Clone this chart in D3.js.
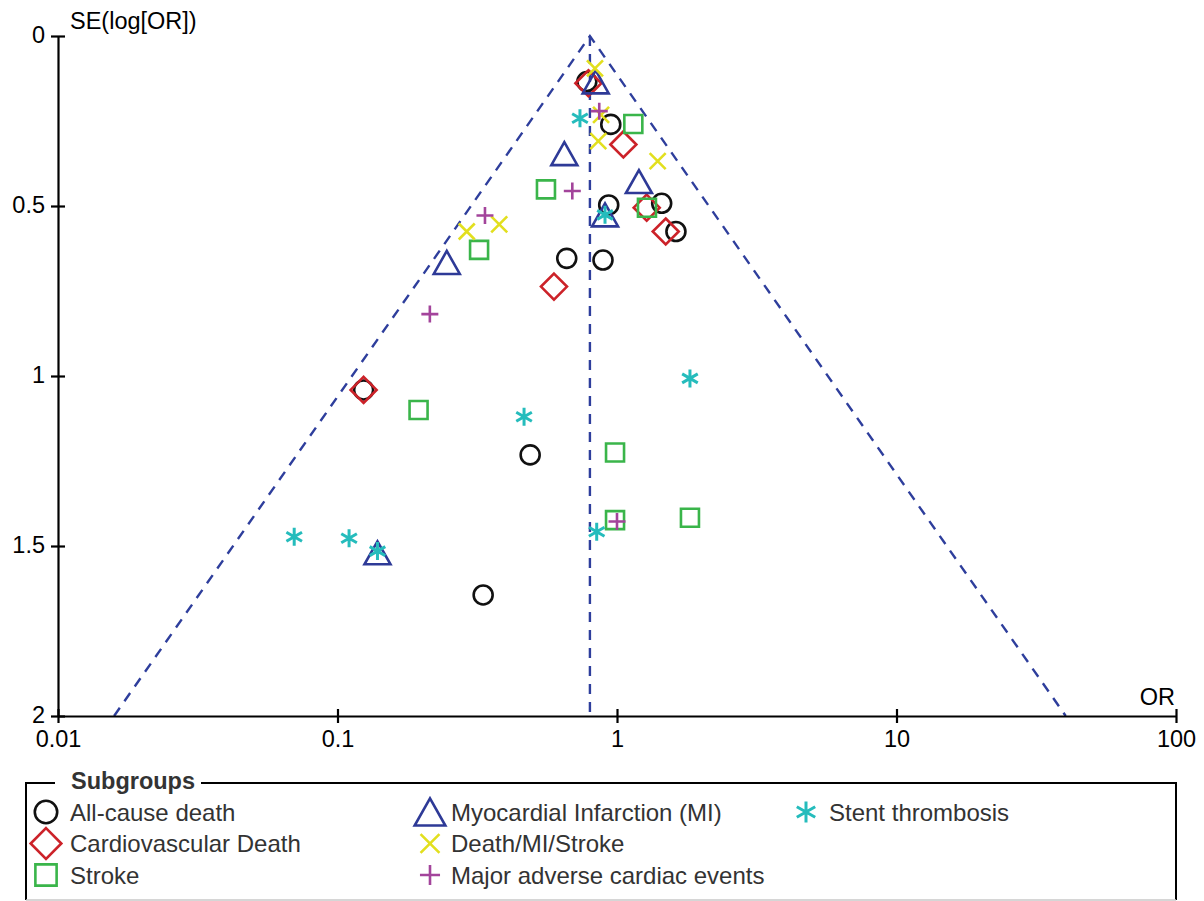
<!DOCTYPE html>
<html>
<head>
<meta charset="utf-8">
<script src="https://cdn.jsdelivr.net/npm/d3@7"></script>
<style>
  body { margin: 0; background: #fff; }
  svg { display: block; font-family: "Liberation Sans", Arial, sans-serif; }
</style>
</head>
<body>
<div id="chart"></div>
<script>
// Odds ratios and standard errors
var allCauseOR = [0.78, 0.95, 0.934, 1.445, 1.625, 0.661, 0.891, 0.124, 0.489, 0.332];
var allCauseSE = [0.134, 0.26, 0.497, 0.492, 0.575, 0.654, 0.659, 1.041, 1.232, 1.644];

var cvDeathOR = [0.79, 1.054, 1.277, 1.494, 0.595, 0.124];
var cvDeathSE = [0.139, 0.319, 0.505, 0.575, 0.737, 1.041];

var miOR = [0.839, 0.648, 1.198, 0.906, 0.246, 0.139];
var miSE = [0.135, 0.346, 0.428, 0.526, 0.666, 1.52];

var strokeOR = [1.144, 0.557, 1.28, 0.321, 0.195, 0.984, 0.984, 1.824];
var strokeSE = [0.259, 0.451, 0.505, 0.629, 1.1, 1.225, 1.424, 1.417];

var deathMiStrokeOR = [0.834, 0.877, 0.857, 1.398, 0.29, 0.379];
var deathMiStrokeSE = [0.095, 0.232, 0.309, 0.368, 0.575, 0.554];

var maceOR = [0.864, 0.692, 0.337, 0.214, 1.0];
var maceSE = [0.221, 0.456, 0.528, 0.818, 1.428];

var stentOR = [0.737, 0.906, 1.824, 0.465, 0.846, 0.110, 0.070, 0.139];
var stentSE = [0.242, 0.526, 1.007, 1.12, 1.458, 1.477, 1.473, 1.515];

var pooledOR = 0.8;
var xTicks = [0.01, 0.1, 1, 10, 100];
var xTickLabels = ["0.01", "0.1", "1", "10", "100"];
var yTicks = [0, 0.5, 1, 1.5, 2];
var yTickLabels = ["0", "0.5", "1", "1.5", "2"];

// Series table (drawing order matters for overlaps)
var series = [
  { name: "All-cause death", shape: "circle", color: "#111111", or: allCauseOR, se: allCauseSE, col: 0, row: 0 },
  { name: "Cardiovascular Death", shape: "diamond", color: "#cc2229", or: cvDeathOR, se: cvDeathSE, col: 0, row: 1 },
  { name: "Myocardial Infarction (MI)", shape: "triangle", color: "#2e3a97", or: miOR, se: miSE, col: 1, row: 0 },
  { name: "Stroke", shape: "square", color: "#3ab54a", or: strokeOR, se: strokeSE, col: 0, row: 2 },
  { name: "Death/MI/Stroke", shape: "cross", color: "#e2df1e", or: deathMiStrokeOR, se: deathMiStrokeSE, col: 1, row: 1 },
  { name: "Major adverse cardiac events", shape: "plus", color: "#a3449b", or: maceOR, se: maceSE, col: 1, row: 2 },
  { name: "Stent thrombosis", shape: "asterisk", color: "#25bcbc", or: stentOR, se: stentSE, col: 2, row: 0 }
];

var width = 1204, height = 901;

var svg = d3.select("#chart")
  .append("svg")
  .attr("width", width)
  .attr("height", height);

// Scales
var x = d3.scaleLog().domain([0.01, 100]).range([58, 1176]);
var y = d3.scaleLinear().domain([0, 2]).range([36, 716]);

// Marker paths
function markerPath(shape, s) {
  var p = d3.path();
  if (shape === "circle") {
    var r = 9.5 * s;
    p.moveTo(r, 0);
    p.arc(0, 0, r, 0, 2 * Math.PI);
  } else if (shape === "diamond") {
    var h = 13 * s;
    p.moveTo(0, -h); p.lineTo(h, 0); p.lineTo(0, h); p.lineTo(-h, 0); p.closePath();
  } else if (shape === "square") {
    var a = 9 * s;
    p.rect(-a, -a, 2 * a, 2 * a);
  } else if (shape === "triangle") {
    var w = 13 * s, t = 11.5 * s;
    p.moveTo(0, -t); p.lineTo(w, t); p.lineTo(-w, t); p.closePath();
  } else if (shape === "cross") {
    var c = 8 * s;
    p.moveTo(-c, -c); p.lineTo(c, c); p.moveTo(-c, c); p.lineTo(c, -c);
  } else if (shape === "plus") {
    var q = 8.5 * s;
    p.moveTo(-q, 0); p.lineTo(q, 0); p.moveTo(0, -q); p.lineTo(0, q);
  } else if (shape === "asterisk") {
    var k = 9 * s, cx = k * Math.cos(Math.PI / 6), cy = k * Math.sin(Math.PI / 6);
    p.moveTo(0, -k); p.lineTo(0, k);
    p.moveTo(-cx, -cy); p.lineTo(cx, cy);
    p.moveTo(-cx, cy); p.lineTo(cx, -cy);
  }
  return p.toString();
}

// Funnel and pooled estimate lines
var z = 1.96;
var seMax = 2;
var funnel = [
  [pooledOR * Math.exp(-z * seMax), seMax],
  [pooledOR, 0],
  [pooledOR * Math.exp(z * seMax), seMax]
];
var line = d3.line()
  .x(function(d) { return x(d[0]); })
  .y(function(d) { return y(d[1]); });

svg.append("path")
  .datum(funnel)
  .attr("d", line)
  .attr("fill", "none")
  .attr("stroke", "#2e3e9c")
  .attr("stroke-width", 2.4)
  .attr("stroke-dasharray", "10,8");

svg.append("path")
  .datum([[pooledOR, 0], [pooledOR, seMax]])
  .attr("d", line)
  .attr("fill", "none")
  .attr("stroke", "#2e3e9c")
  .attr("stroke-width", 2.4)
  .attr("stroke-dasharray", "10,8");

// Axes
var xAxis = svg.append("g")
  .attr("transform", "translate(0," + y(2) + ")")
  .call(d3.axisBottom(x)
    .tickValues(xTicks)
    .tickFormat(function(d, i) { return xTickLabels[i]; })
    .tickSize(7)
    .tickSizeOuter(0)
    .tickPadding(7));

var yAxis = svg.append("g")
  .attr("transform", "translate(" + x(0.01) + ",0)")
  .call(d3.axisLeft(y)
    .tickValues(yTicks)
    .tickFormat(function(d, i) { return yTickLabels[i]; })
    .tickSize(7)
    .tickSizeOuter(0)
    .tickPadding(6));

xAxis.selectAll(".tick line").attr("y1", -7);
yAxis.selectAll(".tick line").attr("x1", 7);
// keep the "2" label clear of the "0.01" label below it
yAxis.selectAll(".tick text").attr("dy", "0.28em");

[xAxis, yAxis].forEach(function(g) {
  g.select(".domain").attr("stroke", "#000").attr("stroke-width", 2.2);
  g.selectAll(".tick line").attr("stroke", "#000").attr("stroke-width", 2.2);
  g.selectAll(".tick text")
    .attr("fill", "#000")
    .style("font-size", "23.5px")
    .style("font-family", "'Liberation Sans', Arial, sans-serif");
});

// Axis titles
svg.append("text")
  .attr("x", 70)
  .attr("y", 29)
  .attr("fill", "#000")
  .style("font-size", "23.5px")
  .text("SE(log[OR])");

svg.append("text")
  .attr("x", 1175)
  .attr("y", 705)
  .attr("text-anchor", "end")
  .attr("fill", "#000")
  .style("font-size", "23.5px")
  .text("OR");

// Points
series.forEach(function(s) {
  var pts = s.or.map(function(v, i) { return { or: v, se: s.se[i] }; });
  svg.append("g")
    .selectAll("path")
    .data(pts)
    .enter()
    .append("path")
    .attr("transform", function(d) { return "translate(" + x(d.or) + "," + y(d.se) + ")"; })
    .attr("d", markerPath(s.shape, 1))
    .attr("fill", "none")
    .attr("stroke", s.color)
    .attr("stroke-width", s.shape === "asterisk" ? 3 : 2.6);
});

// Legend box
var legend = svg.append("g");
legend.append("path")
  .attr("d", "M55,783 H26 V900 M201,783 H1176 V900")
  .attr("fill", "none")
  .attr("stroke", "#000")
  .attr("stroke-width", 2);
legend.append("line")
  .attr("x1", 26).attr("x2", 1176)
  .attr("y1", 900).attr("y2", 900)
  .attr("stroke", "#c8c8c8")
  .attr("stroke-width", 1.5);

legend.append("text")
  .attr("x", 71)
  .attr("y", 789)
  .attr("fill", "#333")
  .style("font-size", "23.5px")
  .style("font-weight", "bold")
  .text("Subgroups");

var colSymbolX = [46, 430, 806];
var colTextX = [70, 451, 829];
var rowY = [812, 843.5, 875];

var items = legend.selectAll(".item")
  .data(series)
  .enter()
  .append("g")
  .attr("class", "item");

items.append("path")
  .attr("transform", function(d) { return "translate(" + colSymbolX[d.col] + "," + rowY[d.row] + ")"; })
  .attr("d", function(d) { return markerPath(d.shape, 1.18); })
  .attr("fill", "none")
  .attr("stroke", function(d) { return d.color; })
  .attr("stroke-width", function(d) { return d.shape === "asterisk" ? 3 : 2.6; });

items.append("text")
  .attr("x", function(d) { return colTextX[d.col]; })
  .attr("y", function(d) { return rowY[d.row] + 8.5; })
  .attr("fill", "#333")
  .style("font-size", "24px")
  .text(function(d) { return d.name; });
</script>
</body>
</html>
